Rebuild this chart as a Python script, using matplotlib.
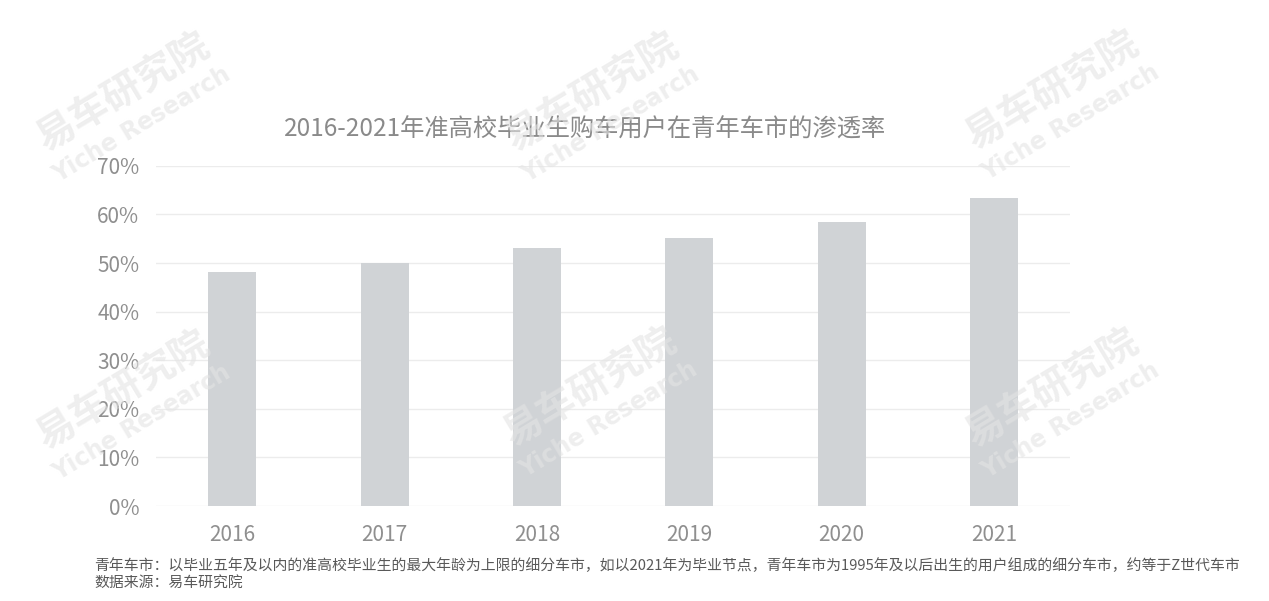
import matplotlib
matplotlib.use('Agg')
import matplotlib.pyplot as plt

plt.rcParams['font.family'] = ['Noto Sans CJK SC', 'DejaVu Sans']

# 数据
years = ['2016', '2017', '2018', '2019', '2020', '2021']
rates = [48.2, 50.0, 53.2, 55.1, 58.5, 63.4]
y_ticks = [0, 10, 20, 30, 40, 50, 60, 70]

title = '2016-2021年准高校毕业生购车用户在青年车市的渗透率'
note1 = '青年车市：以毕业五年及以内的准高校毕业生的最大年龄为上限的细分车市，如以2021年为毕业节点，青年车市为1995年及以后出生的用户组成的细分车市，约等于Z世代车市'
note2 = '数据来源：易车研究院'

W, H = 1269, 601
fig = plt.figure(figsize=(W / 100, H / 100), dpi=100)

ax = fig.add_axes([0.1229, 0.158, 0.7205, 0.566])
ax.bar(range(len(years)), rates, width=0.315, color='#d0d3d6', zorder=2)

ax.set_xlim(-0.5, len(years) - 0.5)
ax.set_ylim(0, 70)
ax.set_yticks(y_ticks)
ax.set_yticklabels([f'{v}%' for v in y_ticks])
ax.set_xticks(range(len(years)))
ax.set_xticklabels(years)
ax.grid(axis='y', color='#ececec', linewidth=1, zorder=0)
for s in ax.spines.values():
    s.set_visible(False)
ax.tick_params(length=0, labelsize=15, labelcolor='#8f8f8f')
ax.tick_params(axis='y', pad=12)
ax.tick_params(axis='x', pad=13)

# 水印 (像素中心)
for cx, cy in [(123, 92), (592, 92), (1052, 90), (123, 390), (590, 387), (1052, 388)]:
    fig.text(cx / W, 1 - cy / H, '易车研究院', rotation=31, color='#e4e4e4', alpha=0.6,
             fontsize=28, fontweight='bold', ha='center', va='center',
             rotation_mode='anchor', zorder=10)
    fig.text((cx + 19) / W, 1 - (cy + 33) / H, 'Yiche Research', rotation=31,
             color='#e4e4e4', alpha=0.6, fontsize=17, fontweight='bold',
             family='DejaVu Sans', ha='center', va='center',
             rotation_mode='anchor', zorder=10)

fig.text(585 / W, 1 - 130 / H, title, ha='center', va='center', fontsize=17.5, color='#8a8a8a')
fig.text(94 / W, 1 - 566 / H, note1, ha='left', va='center', fontsize=10.7, color='#595959')
fig.text(94 / W, 1 - 583 / H, note2, ha='left', va='center', fontsize=10.7, color='#595959')

fig.savefig('out.png', dpi=100)
